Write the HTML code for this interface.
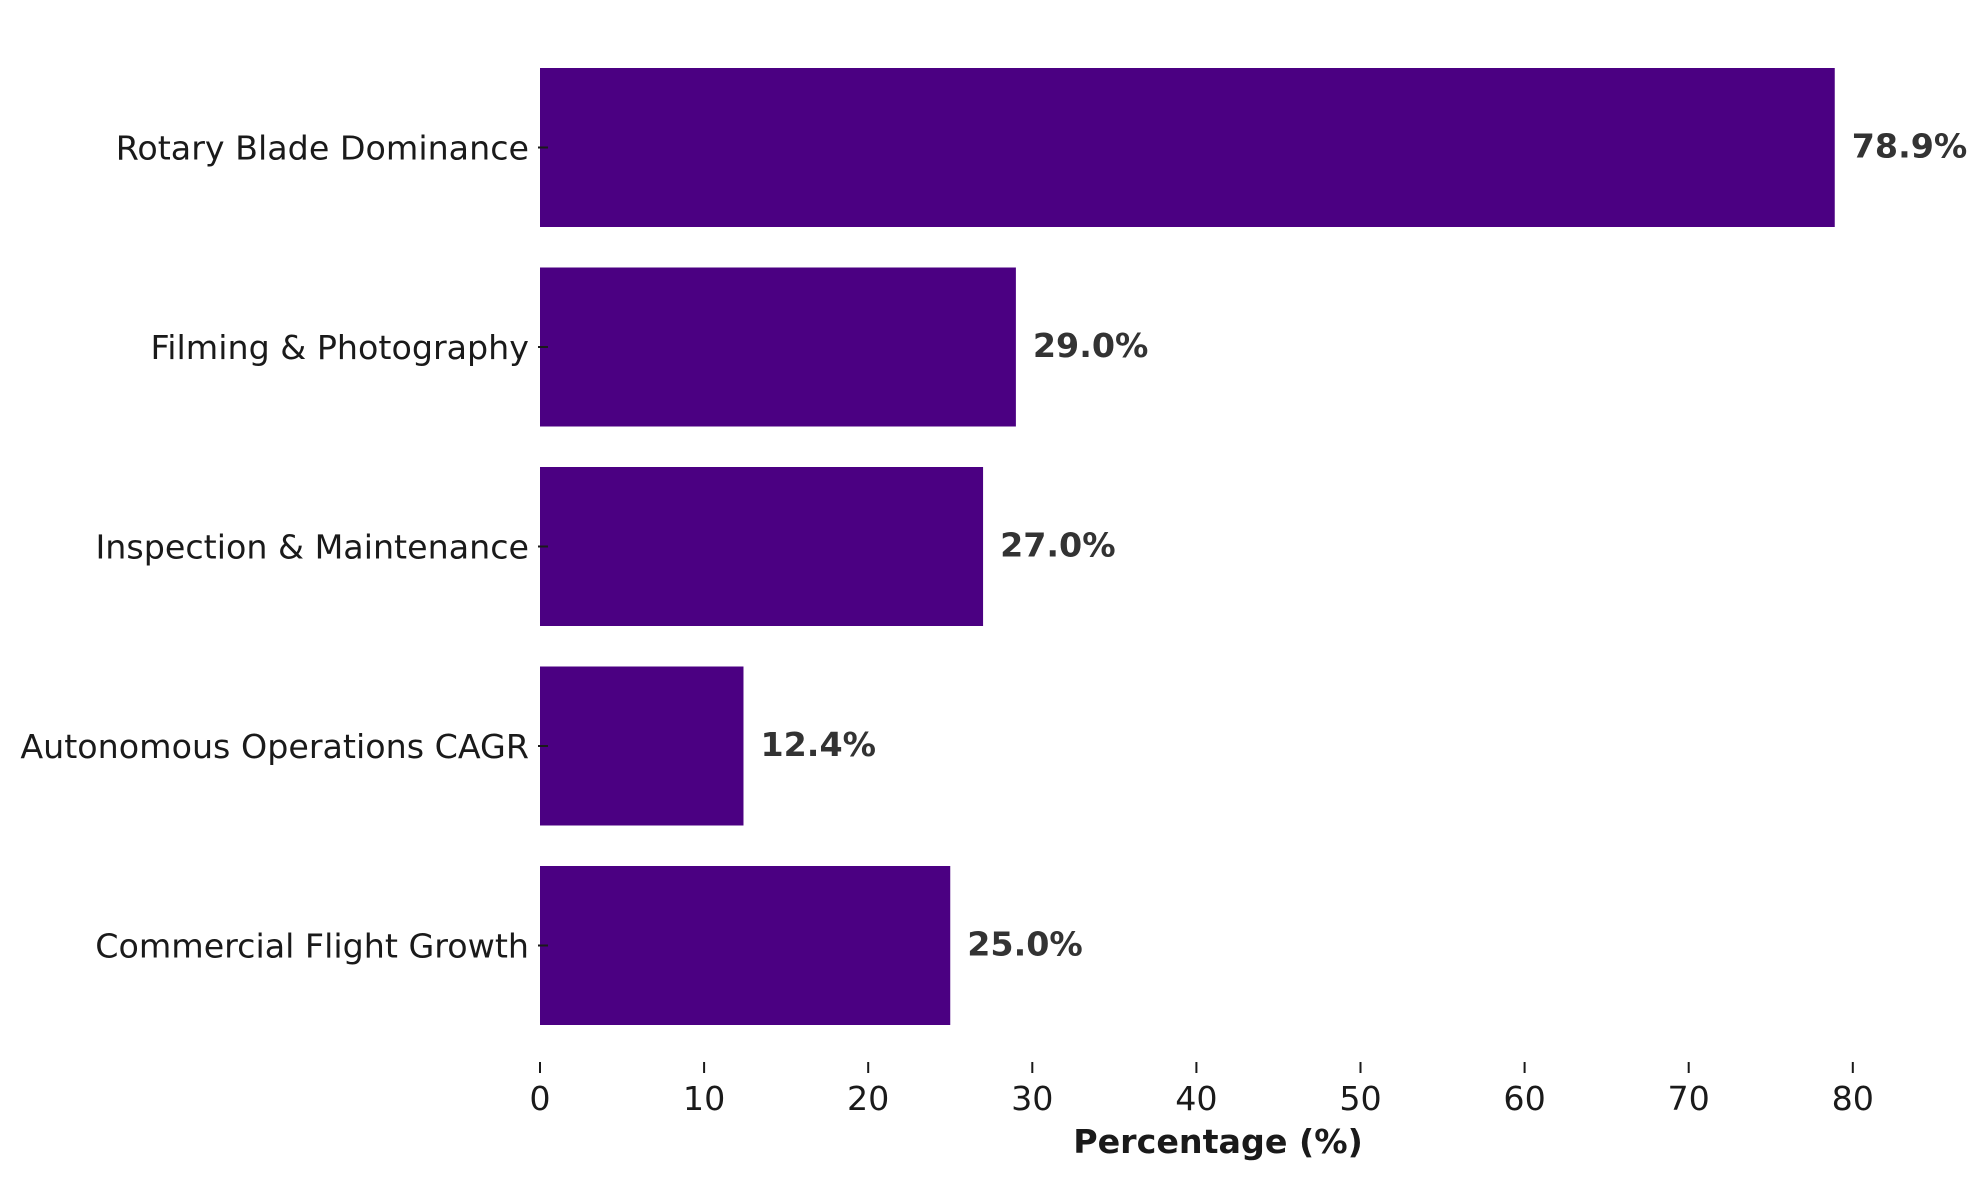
<!DOCTYPE html>
<html><head><meta charset="utf-8">
<style>
html,body{margin:0;padding:0;background:#fff;}
svg{display:block;font-family:"DejaVu Sans","Liberation Sans",sans-serif;}
</style></head>
<body>
<svg id="chart" width="1986" height="1180" viewBox="0 0 1986 1180" xmlns="http://www.w3.org/2000/svg"></svg>
<script>
const categories = ["Rotary Blade Dominance","Filming & Photography","Inspection & Maintenance","Autonomous Operations CAGR","Commercial Flight Growth"];
const values = [78.9, 29.0, 27.0, 12.4, 25.0];
const valueLabels = ["78.9%","29.0%","27.0%","12.4%","25.0%"];
const xTicks = [0,10,20,30,40,50,60,70,80];

const NS = "http://www.w3.org/2000/svg";
const svg = document.getElementById("chart");
const x0 = 540, pxPerUnit = 16.41;
function xScale(v){ return x0 + v * pxPerUnit; }
const firstCenter = 147.5, pitch = 199.5, barH = 159;
function yCenter(i){ return firstCenter + i * pitch; }
const FS = 33.3;

function mk(tag, attrs){ const e = document.createElementNS(NS, tag); for (const k in attrs) e.setAttribute(k, attrs[k]); svg.appendChild(e); return e; }

categories.forEach((c, i) => {
  const yc = yCenter(i);
  const bar = mk("rect", {x: xScale(0), y: yc - barH/2, width: xScale(values[i]) - xScale(0), height: barH, fill: "#4b0082"});
  
  
  const tk = mk("line", {x1: x0 - 2, x2: x0 + 8, y1: yc, y2: yc, stroke: "#1a1a1a", "stroke-width": 2});
  
  
  const lab = mk("text", {x: 529, y: yc + 12, "text-anchor": "end", "font-size": FS, fill: "#1a1a1a"});
  lab.textContent = c;
  
  
  const vl = mk("text", {x: xScale(values[i]) + 17, y: yc + 10, "font-size": FS, "font-weight": "bold", fill: "#333333"});
  vl.textContent = valueLabels[i];
  
  
});

xTicks.forEach(t => {
  const x = xScale(t);
  const tm = mk("line", {x1: x, x2: x, y1: 1062, y2: 1073, stroke: "#1a1a1a", "stroke-width": 2});
  
  
  const tl = mk("text", {x: x, y: 1110, "text-anchor": "middle", "font-size": FS, fill: "#1a1a1a"});
  tl.textContent = t;
  
  
});

const title = mk("text", {x: 1218, y: 1153, "text-anchor": "middle", "font-size": FS, "font-weight": "bold", fill: "#1a1a1a"});
title.textContent = "Percentage (%)";


</script>
</body></html>
